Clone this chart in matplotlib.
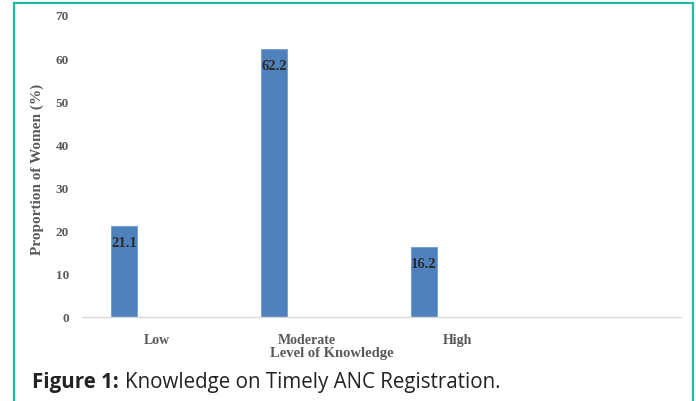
import matplotlib
matplotlib.use("Agg")
import matplotlib.pyplot as plt
import numpy as np

# Data
categories = ["Low", "Moderate", "High"]
values = [21.1, 62.2, 16.2]
y_ticks = [0, 10, 20, 30, 40, 50, 60, 70]

BAR_COLOR = "#4F81BD"
TEXT_GRAY = "#595959"
BORDER = "#1DB9A0"
SERIF = "Liberation Serif"

fig = plt.figure(figsize=(6.96, 4.02), dpi=100)
W, H = 696, 402

# Teal frame around the figure (no bottom edge)
frame_l, frame_r, frame_t = 14 / W, 693 / W, 1 - 4 / H
fig.add_artist(plt.Line2D([frame_l, frame_l], [0, frame_t], color=BORDER, lw=1.6))
fig.add_artist(plt.Line2D([frame_r, frame_r], [0, frame_t], color=BORDER, lw=1.6))
fig.add_artist(plt.Line2D([frame_l, frame_r], [frame_t, frame_t], color=BORDER, lw=1.6))

# Plot area in pixel terms
ax = fig.add_axes([82 / W, 1 - 318 / H, 599 / W, 302 / H])
x = np.arange(len(categories))
bars = ax.bar(x, values, width=0.173, color=BAR_COLOR, edgecolor="#6F9BD0", linewidth=0.6)

ax.set_xlim(-0.28, 3.713)
ax.set_ylim(0, 70)

for s in ["top", "right", "left"]:
    ax.spines[s].set_visible(False)
ax.spines["bottom"].set_color("#D9D9D9")
ax.spines["bottom"].set_linewidth(1.0)

ax.set_yticks(y_ticks)
ax.set_yticklabels([str(t) for t in y_ticks], fontfamily=SERIF, fontweight="bold",
                   fontsize=9.5, color=TEXT_GRAY)
ax.tick_params(axis="y", length=0, pad=9.5)

# category labels sit right of the bars, as in the original
ax.set_xticks(x + 0.22)
ax.set_xticklabels(categories, fontfamily=SERIF, fontweight="bold",
                   fontsize=10, color=TEXT_GRAY)
for lbl in ax.get_xticklabels():
    lbl.set_verticalalignment("center")
ax.tick_params(axis="x", length=0, pad=16.5)

# bar value labels inside the top of each bar
for xi, v in zip(x, values):
    ax.text(xi, v - 3.9, f"{v}", ha="center", va="center", fontfamily=SERIF,
            fontweight="bold", fontsize=10.5, color="#2B2B2B")

fig.text(332 / W, 1 - 354 / H, "Level of Knowledge", ha="center", va="center",
         fontfamily=SERIF, fontweight="bold", fontsize=10.5, color=TEXT_GRAY)
fig.text(37 / W, 1 - 169 / H, "Proportion of Women (%)", ha="center", va="center",
         rotation=90, fontfamily=SERIF, fontweight="bold", fontsize=11, color=TEXT_GRAY)

# caption
cap = fig.text(32 / W, 1 - 383 / H, "Figure 1:", ha="left", va="center",
               fontfamily="Open Sans", fontweight="bold", fontsize=14.8, color="#222222")
fig.canvas.draw()
bb = cap.get_window_extent()
fig.text(bb.x1 / W + 6 / W, 1 - 383 / H, "Knowledge on Timely ANC Registration.",
         ha="left", va="center", fontfamily="Open Sans", fontsize=14.8, color="#222222")

fig.savefig("out.png", dpi=100, facecolor="white")
